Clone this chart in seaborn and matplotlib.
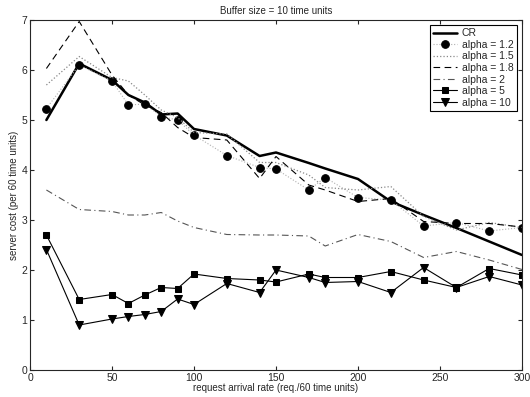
import numpy as np
import pandas as pd
import matplotlib
matplotlib.use("Agg")
import matplotlib.pyplot as plt
import seaborn as sns

# arrival rates (req./60 time units)
rate = [10, 30, 50, 60, 70, 80, 90, 100, 120, 140, 150, 170, 180, 200, 220, 240, 260, 280, 300]

cost_cr = [5.0, 6.13, 5.8, 5.5, 5.35, 5.11, 5.13, 4.82, 4.69, 4.28, 4.35, 4.14, 4.03, 3.82, 3.37, 3.1, 2.84, 2.57, 2.3]
cost_a12 = [5.23, 6.1, 5.78, 5.3, 5.32, 5.07, 5.0, 4.7, 4.29, 4.05, 4.02, 3.6, 3.85, 3.45, 3.4, 2.88, 2.95, 2.78, 2.85]
cost_a15 = [5.7, 6.27, 5.85, 5.78, 5.5, 5.2, 5.05, 4.75, 4.72, 4.15, 4.15, 3.9, 3.65, 3.6, 3.67, 3.07, 2.8, 2.95, 2.85]
cost_a18 = [6.03, 6.97, 5.9, 5.5, 5.3, 5.15, 4.85, 4.65, 4.6, 3.83, 4.27, 3.7, 3.6, 3.37, 3.43, 2.97, 2.93, 2.93, 2.86]
cost_a2 = [3.6, 3.21, 3.17, 3.1, 3.1, 3.15, 2.98, 2.85, 2.71, 2.7, 2.7, 2.68, 2.48, 2.71, 2.57, 2.25, 2.37, 2.2, 2.01]
cost_a5 = [2.7, 1.41, 1.51, 1.33, 1.5, 1.65, 1.63, 1.92, 1.83, 1.8, 1.76, 1.92, 1.85, 1.85, 1.97, 1.8, 1.65, 2.03, 1.9]
cost_a10 = [2.41, 0.9, 1.02, 1.07, 1.11, 1.17, 1.42, 1.31, 1.73, 1.55, 2.0, 1.85, 1.75, 1.77, 1.55, 2.05, 1.65, 1.87, 1.7]

sns.set_style("ticks")
plt.rcParams['font.family'] = ['Liberation Sans', 'DejaVu Sans']
plt.rcParams.update({
    'font.size': 7,
    'xtick.direction': 'in',
    'ytick.direction': 'in',
    'xtick.top': True,
    'ytick.right': True,
    'axes.linewidth': 0.8,
    'xtick.major.size': 3,
    'ytick.major.size': 3,
})

fig, ax = plt.subplots(figsize=(5.3, 3.97), dpi=100)
fig.subplots_adjust(left=30 / 530, right=522 / 530, top=1 - 20 / 397, bottom=1 - 370 / 397)

sns.lineplot(x=rate, y=cost_cr, ax=ax, color='black', linewidth=1.8, label='CR')
sns.lineplot(x=rate, y=cost_a12, ax=ax, color='#b0b0b0', linewidth=0.8, linestyle=':',
             marker='o', markersize=5.5, markerfacecolor='black', markeredgecolor='black',
             label='alpha = 1.2')
sns.lineplot(x=rate, y=cost_a15, ax=ax, color='#888888', linewidth=0.9, linestyle=':', label='alpha = 1.5')
sns.lineplot(x=rate, y=cost_a18, ax=ax, color='black', linewidth=0.8, linestyle=(0, (6, 4)), label='alpha = 1.8')
sns.lineplot(x=rate, y=cost_a2, ax=ax, color='#555555', linewidth=0.8, linestyle=(0, (6, 3, 1, 3)),
             label='alpha = 2')
sns.lineplot(x=rate, y=cost_a5, ax=ax, color='black', linewidth=0.8, marker='s', markersize=4.5,
             markeredgecolor='black', label='alpha = 5')
sns.lineplot(x=rate, y=cost_a10, ax=ax, color='black', linewidth=0.8, marker='v', markersize=6,
             markeredgecolor='black', label='alpha = 10')

ax.set_xlim(0, 300)
ax.set_ylim(0, 7)
ax.set_xticks(np.arange(0, 301, 50))
ax.set_yticks(np.arange(0, 8, 1))
ax.tick_params(labelsize=7.5, pad=2)
ax.set_title('Buffer size = 10 time units', fontsize=7, pad=4)
ax.set_xlabel('request arrival rate (req./60 time units)', fontsize=7, labelpad=0)
ax.set_ylabel('server cost (per 60 time units)', fontsize=7, labelpad=2)

leg = ax.legend(loc='upper right', fontsize=7.5, frameon=True, fancybox=False,
                edgecolor='black', framealpha=1, handlelength=2.3, borderpad=0.3,
                labelspacing=0.15, handletextpad=0.5, borderaxespad=0.5)
leg.get_frame().set_linewidth(0.8)

fig.savefig('out.png', dpi=100)
